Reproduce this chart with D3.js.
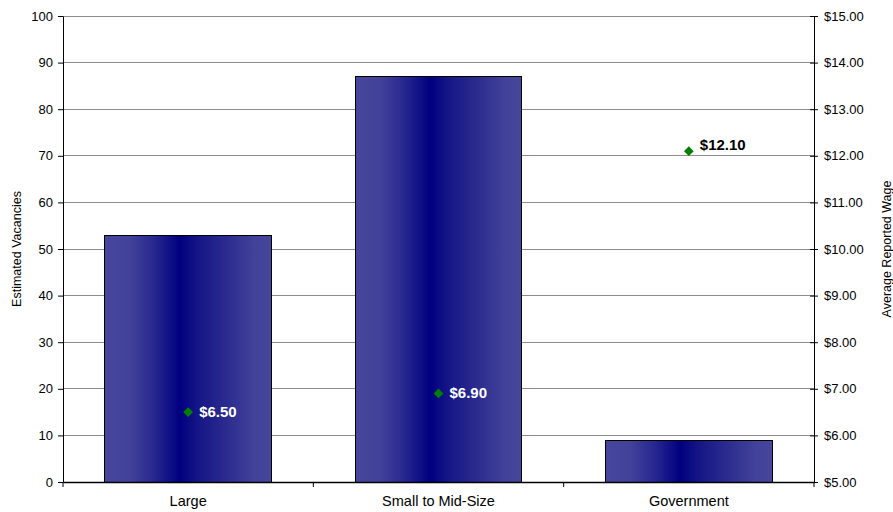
<!DOCTYPE html>
<html><head><meta charset="utf-8">
<script src="https://cdn.jsdelivr.net/npm/d3@7"></script>
<style>body{margin:0;background:#fff;}svg{display:block;font-family:"Liberation Sans",Arial,sans-serif;}</style>
</head><body>
<svg id="c" width="893" height="512"></svg>
<script>
const categories = ["Large", "Small to Mid-Size", "Government"];
const vacancies = [53, 87, 9];
const wages = [6.50, 6.90, 12.10];
const leftTicks = [0,10,20,30,40,50,60,70,80,90,100];
const rightTicks = [5,6,7,8,9,10,11,12,13,14,15];
const labelColors = ["#fff", "#fff", "#000"];
const labelDy = [0, 0, -6];

const svg = d3.select("#c");
const L = 63, R = 814, T = 16, B = 482;
const x = d3.scaleBand().domain(categories).range([L, R]).paddingInner(1/3).paddingOuter(1/6);
const xb = d3.scaleBand().domain(categories).range([L, R]);
const y = d3.scaleLinear().domain([0, 100]).range([B, T]);
const y2 = d3.scaleLinear().domain([5, 15]).range([B, T]);

const defs = svg.append("defs");
const g = defs.append("linearGradient").attr("id", "bg").attr("x1", "0%").attr("x2", "100%").attr("y1", "0%").attr("y2", "0%");
[[0,"#46469c"],[0.15,"#42429a"],[0.3,"#262690"],[0.45,"#000080"],[0.55,"#141486"],[0.75,"#2e2e90"],[0.9,"#42429a"],[1,"#46469c"]]
  .forEach(([o,c]) => g.append("stop").attr("offset", o).attr("stop-color", c));

// gridlines
svg.append("g").selectAll("line").data(leftTicks.filter(d => d > 0)).join("line")
  .attr("x1", L).attr("x2", R).attr("y1", d => y(d)).attr("y2", d => y(d))
  .attr("stroke", "#8c8c8c").attr("stroke-width", 1).attr("shape-rendering", "crispEdges");

// bars
svg.append("g").selectAll("rect").data(categories).join("rect")
  .attr("x", d => x(d)).attr("width", x.bandwidth())
  .attr("y", (d, i) => y(vacancies[i])).attr("height", (d, i) => B - y(vacancies[i]))
  .attr("fill", "url(#bg)").attr("stroke", "#000").attr("stroke-width", 1).attr("shape-rendering", "crispEdges");

// left axis
const ax = svg.append("g").attr("transform", `translate(${L},0)`)
  .call(d3.axisLeft(y).tickValues(leftTicks).tickSize(5).tickPadding(5).tickSizeOuter(0));
ax.select(".domain").attr("stroke", "#000");
ax.selectAll("text").attr("font-size", 13).attr("fill", "#000").attr("font-family", "Liberation Sans, Arial, sans-serif");

// right axis
const ar = svg.append("g").attr("transform", `translate(${R},0)`)
  .call(d3.axisRight(y2).tickValues(rightTicks).tickSize(4).tickPadding(6).tickSizeOuter(0).tickFormat(d => "$" + d3.format(".2f")(d)));
ar.select(".domain").attr("stroke", "#000");
ar.selectAll(".tick line").attr("x1", -4).attr("x2", 4).attr("stroke", "#000");
ar.selectAll("text").attr("font-size", 13).attr("fill", "#000").attr("font-family", "Liberation Sans, Arial, sans-serif");

// bottom axis
const axb = svg.append("g").attr("transform", `translate(0,${B})`)
  .call(d3.axisBottom(xb).tickSize(0).tickPadding(14));
axb.select(".domain").attr("stroke", "#000").attr("stroke-width", 1.5);
axb.selectAll("text").attr("font-size", 14.5).attr("fill", "#000").attr("font-family", "Liberation Sans, Arial, sans-serif");
const bounds = [L, ...categories.map(c => xb(c) + xb.bandwidth())];
svg.append("g").selectAll("line").data(bounds).join("line")
  .attr("x1", d => d).attr("x2", d => d).attr("y1", B).attr("y2", B + 5).attr("stroke", "#000");

// wage markers
const mk = svg.append("g");
categories.forEach((c, i) => {
  const cx = x(c) + x.bandwidth() / 2, cy = y2(wages[i]);
  mk.append("path").attr("d", d3.symbol(d3.symbolDiamond2, 60)()).attr("transform", `translate(${cx},${cy})`)
    .attr("fill", "#008000");
  mk.append("text").attr("x", cx + 11).attr("y", cy + 5 + labelDy[i]).attr("font-size", 15).attr("font-weight", "bold")
    .attr("fill", labelColors[i]).text("$" + d3.format(".2f")(wages[i]));
});

// axis titles
svg.append("text").attr("transform", `translate(21,${(T + B) / 2}) rotate(-90)`).attr("text-anchor", "middle")
  .attr("font-size", 12.5).text("Estimated Vacancies");
svg.append("text").attr("transform", `translate(891,${(T + B) / 2}) rotate(-90)`).attr("text-anchor", "middle")
  .attr("font-size", 12.5).text("Average Reported Wage");
</script>
</body></html>
